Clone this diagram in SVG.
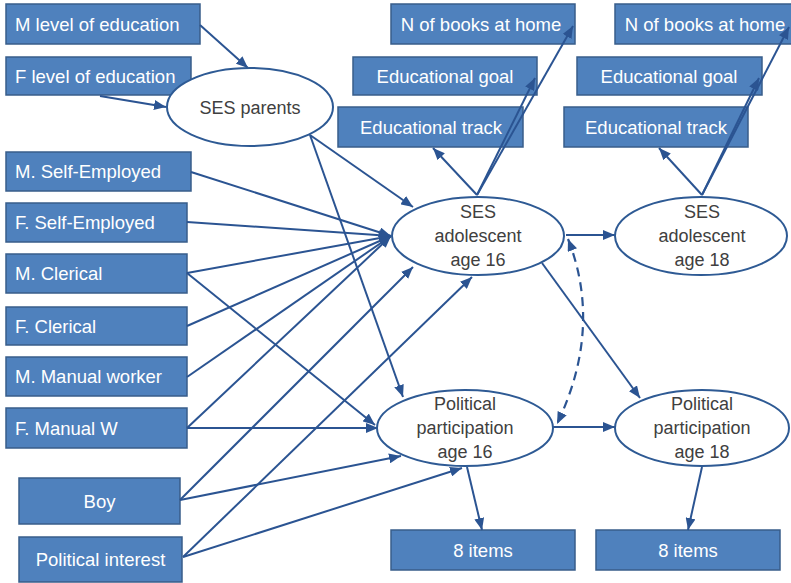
<svg xmlns="http://www.w3.org/2000/svg" width="791" height="583" viewBox="0 0 791 583">
<style>
.box{fill:#4F81BD;stroke:#385D8A;stroke-width:1.5}
.bt{fill:#ffffff;font-family:"Liberation Sans",Arial,sans-serif;font-size:18.5px}
.c{text-anchor:middle}
.ell{fill:#ffffff;stroke:#2E5A94;stroke-width:2}
.et{fill:#404040;font-family:"Liberation Sans",Arial,sans-serif;font-size:18px;text-anchor:middle}
.ln{fill:none;stroke:#2B5492;stroke-width:2;marker-end:url(#ah)}
.dash{fill:none;stroke:#2B5492;stroke-width:2.2;stroke-dasharray:9 6;marker-start:url(#ah);marker-end:url(#ah)}
</style>
<defs>
<marker id="ah" viewBox="0 0 12 10" refX="12" refY="5" markerWidth="12" markerHeight="10" markerUnits="userSpaceOnUse" orient="auto-start-reverse">
<path d="M0,0 L12,5 L0,10 z" fill="#2B5492"/>
</marker>
</defs>
<rect width="791" height="583" fill="#ffffff"/>

<g id="m_level_education"><rect class="box" x="6" y="4" width="194" height="40"/><text class="bt" x="15" y="30.5">M level of education</text></g>
<g id="f_level_education"><rect class="box" x="6" y="57" width="185" height="38"/><text class="bt" x="15" y="82.5">F level of education</text></g>
<g id="m_self_employed"><rect class="box" x="6" y="152" width="185" height="39"/><text class="bt" x="15" y="178">M. Self-Employed</text></g>
<g id="f_self_employed"><rect class="box" x="6" y="203" width="181" height="39"/><text class="bt" x="15" y="229">F. Self-Employed</text></g>
<g id="m_clerical"><rect class="box" x="6" y="254" width="181" height="39"/><text class="bt" x="15" y="280">M. Clerical</text></g>
<g id="f_clerical"><rect class="box" x="6" y="307" width="181" height="38"/><text class="bt" x="15" y="332.5">F. Clerical</text></g>
<g id="m_manual_worker"><rect class="box" x="6" y="357" width="181" height="39"/><text class="bt" x="15" y="383">M. Manual worker</text></g>
<g id="f_manual_w"><rect class="box" x="6" y="408" width="181" height="40"/><text class="bt" x="15" y="434.5">F. Manual W</text></g>
<g id="boy"><rect class="box" x="19" y="478" width="161" height="46"/><text class="bt c" x="99.5" y="507.5">Boy</text></g>
<g id="political_interest"><rect class="box" x="19" y="537" width="163" height="45"/><text class="bt c" x="100.5" y="566">Political interest</text></g>

<g id="n_books_16"><rect class="box" x="391" y="4" width="184" height="40"/><text class="bt c" x="481" y="30.5">N of books at home</text></g>
<g id="edu_goal_16"><rect class="box" x="353" y="57" width="184" height="38"/><text class="bt c" x="445" y="82.5">Educational goal</text></g>
<g id="edu_track_16"><rect class="box" x="338" y="107" width="185" height="40"/><text class="bt c" x="431" y="133.5">Educational track</text></g>
<g id="n_books_18"><rect class="box" x="615" y="4" width="178" height="40"/><text class="bt c" x="705" y="30.5">N of books at home</text></g>
<g id="edu_goal_18"><rect class="box" x="577" y="57" width="185" height="38"/><text class="bt c" x="669" y="82.5">Educational goal</text></g>
<g id="edu_track_18"><rect class="box" x="564" y="107" width="184" height="40"/><text class="bt c" x="656" y="133.5">Educational track</text></g>
<g id="items_16"><rect class="box" x="391" y="530" width="184" height="40"/><text class="bt c" x="483" y="556.5">8 items</text></g>
<g id="items_18"><rect class="box" x="596" y="530" width="184" height="40"/><text class="bt c" x="688" y="556.5">8 items</text></g>

<g id="connectors">
<line class="ln" x1="200" y1="25" x2="248" y2="68"/>
<line class="ln" x1="100" y1="96" x2="166" y2="107"/>
<line class="ln" x1="310" y1="135" x2="413" y2="207"/>
<line class="ln" x1="310" y1="135" x2="403" y2="397"/>
<line class="ln" x1="191" y1="172" x2="391" y2="236"/>
<line class="ln" x1="187" y1="222" x2="391" y2="236"/>
<line class="ln" x1="187" y1="273" x2="391" y2="236"/>
<line class="ln" x1="187" y1="326" x2="391" y2="236"/>
<line class="ln" x1="187" y1="377" x2="391" y2="236"/>
<line class="ln" x1="187" y1="428" x2="391" y2="236"/>
<line class="ln" x1="187" y1="273" x2="375" y2="425"/>
<line class="ln" x1="187" y1="428" x2="378" y2="428"/>
<line class="ln" x1="180" y1="500" x2="413" y2="267"/>
<line class="ln" x1="180" y1="500" x2="401" y2="456"/>
<line class="ln" x1="183" y1="557" x2="472" y2="277"/>
<line class="ln" x1="183" y1="557" x2="462" y2="468"/>
<line class="ln" x1="477" y1="195" x2="433" y2="148"/>
<line class="ln" x1="477" y1="195" x2="535" y2="78"/>
<line class="ln" x1="477" y1="195" x2="573" y2="26"/>
<line class="ln" x1="702" y1="195" x2="659" y2="148"/>
<line class="ln" x1="702" y1="195" x2="759" y2="78"/>
<line class="ln" x1="702" y1="195" x2="789" y2="27"/>
<line class="ln" x1="566" y1="235" x2="615" y2="235"/>
<line class="ln" x1="542" y1="263" x2="640" y2="398"/>
<line class="ln" x1="553" y1="427" x2="615" y2="427"/>
<path class="dash" d="M568,239 Q603,328 557,424"/>
<line class="ln" x1="467" y1="467" x2="482" y2="530"/>
<line class="ln" x1="702" y1="467" x2="688" y2="530"/>
</g>

<g id="ses_parents"><ellipse class="ell" cx="250" cy="107" rx="83" ry="39"/><text class="et" x="250" y="113.5">SES parents</text></g>
<g id="ses_adolescent_16"><ellipse class="ell" cx="478" cy="236" rx="86" ry="39"/><text class="et"><tspan x="478" y="218">SES</tspan><tspan x="478" y="242">adolescent</tspan><tspan x="478" y="266">age 16</tspan></text></g>
<g id="ses_adolescent_18"><ellipse class="ell" cx="701" cy="236" rx="86" ry="39"/><text class="et"><tspan x="702" y="218">SES</tspan><tspan x="702" y="242">adolescent</tspan><tspan x="702" y="266">age 18</tspan></text></g>
<g id="political_participation_16"><ellipse class="ell" cx="465" cy="428" rx="88" ry="38"/><text class="et"><tspan x="465" y="410">Political</tspan><tspan x="465" y="434">participation</tspan><tspan x="465" y="458">age 16</tspan></text></g>
<g id="political_participation_18"><ellipse class="ell" cx="702" cy="428" rx="87" ry="38"/><text class="et"><tspan x="702" y="410">Political</tspan><tspan x="702" y="434">participation</tspan><tspan x="702" y="458">age 18</tspan></text></g>
</svg>
